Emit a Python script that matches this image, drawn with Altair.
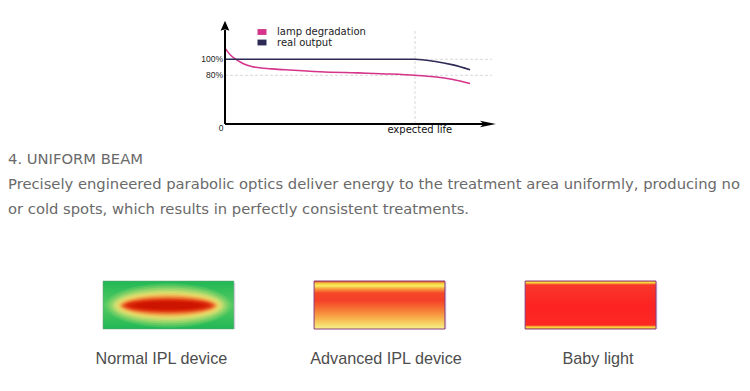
import altair as alt
import pandas as pd

# ---------------- data ----------------
series_names = ["lamp degradation", "real output"]
life_pct = [0, 3, 6, 10, 14, 18, 25, 34, 50, 70, 87, 100, 110, 120, 129]
lamp_degradation = [114, 105, 99.5, 94, 91, 89.5, 88, 86.6, 84.5, 83, 81.6, 80, 77.5, 73, 66.5]
real_output = [100, 100, 100, 100, 100, 100, 100, 100, 100, 100, 100, 100, 97.5, 93, 87]

y_ticks = [100, 80]
y_tick_labels = ["100%", "80%"]
origin_label = "0"
x_axis_label = "expected life"
expected_life = 100

text_lines = [
    "4. UNIFORM BEAM",
    " Precisely engineered parabolic optics deliver energy to the treatment area uniformly, producing no",
    "or cold spots, which results in perfectly consistent treatments.",
]

devices = ["Normal IPL device", "Advanced IPL device", "Baby light"]

# ---------------- styling ----------------
PINK = "#d6338a"
NAVY = "#2d2b55"
W, H = 734, 370

xs = alt.Scale(domain=[0, 100], range=[217, 407], nice=False, zero=False)
ys = alt.Scale(domain=[0, 80, 100], range=[116, 67.3, 51.3], nice=False, zero=False)
dev_scale = alt.Scale(type="band", domain=devices, range=[95, 648], paddingInner=0.38, paddingOuter=0)

lines_df = pd.DataFrame(
    [{"life": l, "pct": v, "series": series_names[0]} for l, v in zip(life_pct, lamp_degradation)]
    + [{"life": l, "pct": v, "series": series_names[1]} for l, v in zip(life_pct, real_output)]
)
legend_df = pd.DataFrame({"series": series_names})
tick_df = pd.DataFrame({"v": y_ticks, "label": y_tick_labels})
text_df = pd.DataFrame({"line": list(range(len(text_lines))), "text": text_lines})
dev_df = pd.DataFrame({"device": devices})
one = pd.DataFrame({"a": [0]})

color_scale = alt.Scale(domain=series_names, range=[PINK, NAVY])

layers = []

# grid lines (dashed)
layers.append(
    alt.Chart(tick_df).mark_rule(color="#d9d9d9", strokeDash=[3, 2], strokeWidth=1).encode(
        y=alt.Y("v:Q", scale=ys, axis=None),
        x=alt.XDatum(0, scale=xs, axis=None),
        x2=alt.X2Datum(140.5),
    )
)
# expected-life vertical dashed line
layers.append(
    alt.Chart(one).mark_rule(color="#d9d9d9", strokeDash=[3, 2], strokeWidth=1).encode(
        x=alt.XDatum(expected_life, scale=xs, axis=None),
        y=alt.YDatum(0, scale=ys, axis=None),
        y2=alt.Y2Datum(136.6),
    )
)
# curves
layers.append(
    alt.Chart(lines_df).mark_line(interpolate="monotone", strokeWidth=1.6).encode(
        x=alt.X("life:Q", scale=xs, axis=None),
        y=alt.Y("pct:Q", scale=ys, axis=None),
        color=alt.Color("series:N", scale=color_scale, legend=None),
    )
)
# axes lines
layers.append(
    alt.Chart(one).mark_rule(color="black", strokeWidth=2).encode(
        x=alt.XDatum(0, scale=xs, axis=None),
        y=alt.YDatum(0, scale=ys, axis=None),
        y2=alt.Y2Datum(137),
    )
)
layers.append(
    alt.Chart(one).mark_rule(color="black", strokeWidth=2).encode(
        x=alt.XDatum(0, scale=xs, axis=None),
        x2=alt.X2Datum(138),
        y=alt.YDatum(0, scale=ys, axis=None),
    )
)
# arrow heads
layers.append(
    alt.Chart(one).mark_point(shape="M0,-1L0.7,0.6L0,0.35L-0.7,0.6Z", size=156, filled=True,
                              color="black", opacity=1).encode(
        x=alt.XDatum(0, scale=xs, axis=None),
        y=alt.YDatum(140.4, scale=ys, axis=None),
    )
)
layers.append(
    alt.Chart(one).mark_point(shape="M1,0L-1,-0.4L-0.55,0L-1,0.4Z", size=256, filled=True,
                              color="black", opacity=1).encode(
        x=alt.XDatum(138.4, scale=xs, axis=None),
        y=alt.YDatum(0, scale=ys, axis=None),
    )
)
# tick labels
layers.append(
    alt.Chart(tick_df).mark_text(align="right", baseline="middle", dx=-2, fontSize=8.5,
                                 font="Liberation Sans", color="#222").encode(
        x=alt.XDatum(0, scale=xs, axis=None),
        y=alt.Y("v:Q", scale=ys, axis=None),
        text="label:N",
    )
)
layers.append(
    alt.Chart(one).mark_text(align="center", baseline="middle", dx=-4, dy=4, fontSize=8.5,
                             font="Liberation Sans", color="#222", text=origin_label).encode(
        x=alt.XDatum(0, scale=xs, axis=None),
        y=alt.YDatum(0, scale=ys, axis=None),
    )
)
layers.append(
    alt.Chart(one).mark_text(align="center", baseline="middle", dy=5.5, fontSize=10,
                             font="DejaVu Sans", color="#111", text=x_axis_label).encode(
        x=alt.XDatum(102.5, scale=xs, axis=None),
        y=alt.YDatum(0, scale=ys, axis=None),
    )
)
# legend
leg_y = alt.Scale(type="point", domain=series_names, range=[24, 34.5], padding=0)
layers.append(
    alt.Chart(legend_df).mark_point(shape="M-1,-0.65L1,-0.65L1,0.65L-1,0.65Z", size=81,
                                    filled=True, opacity=1).encode(
        x=alt.value(254),
        y=alt.Y("series:N", scale=leg_y, axis=None),
        color=alt.Color("series:N", scale=color_scale, legend=None),
    )
)
layers.append(
    alt.Chart(legend_df).mark_text(align="left", baseline="middle", fontSize=10,
                                   font="DejaVu Sans", color="#222").encode(
        x=alt.value(269),
        y=alt.Y("series:N", scale=leg_y, axis=None),
        text="series:N",
    )
)

# paragraph text
layers.append(
    alt.Chart(text_df).mark_text(align="left", baseline="middle", fontSize=14.75,
                                 font="DejaVu Sans", color="#6a6a6a").encode(
        x=alt.value(0),
        y=alt.Y("line:Q", scale=alt.Scale(domain=[0, 2], range=[152, 202]), axis=None),
        text="text:N",
    )
)

# ----- beam profile boxes -----
def dev_rect(name, fill, **kw):
    return alt.Chart(dev_df).transform_filter(alt.datum.device == name).mark_rect(fill=fill, **kw).encode(
        x=alt.X("device:N", scale=dev_scale, axis=None),
        y=alt.value(273),
        y2=alt.value(321),
    )

# soft shadows
for d in devices:
    layers.append(dev_rect(d, "#e4d9ee", xOffset=1.5, yOffset=1.5))

normal_fill = {
    "gradient": "linear", "x1": 0, "y1": 0, "x2": 0, "y2": 1,
    "stops": [
        {"offset": 0, "color": "#20b855"},
        {"offset": 0.5, "color": "#55c962"},
        {"offset": 1, "color": "#20b855"},
    ],
}
layers.append(dev_rect(devices[0], normal_fill, stroke="#6b9a7a", strokeWidth=0.5))

# elliptical hot-spot: nested soft rings (anchors, then densified for smoothness)
ring_anchors = [
    (126, 44, "#7fd46a", 0.35),
    (116, 36, "#b6db6e", 0.45),
    (108, 29, "#e2e070", 0.55),
    (101, 24, "#f0cc60", 0.55),
    (96, 20, "#f09a44", 0.6),
    (92, 16.5, "#ea6a2c", 0.65),
    (87, 13, "#e03c14", 0.7),
    (80, 10, "#d8240a", 0.8),
    (68, 7.5, "#d01800", 0.9),
    (52, 5, "#cc1400", 1.0),
]


def _mix(c1, c2, t):
    a = [int(c1[i:i + 2], 16) for i in (1, 3, 5)]
    b = [int(c2[i:i + 2], 16) for i in (1, 3, 5)]
    return "#" + "".join(f"{round(x + (y - x) * t):02x}" for x, y in zip(a, b))


rings = []
for (w1, h1, c1, o1), (w2, h2, c2, o2) in zip(ring_anchors[:-1], ring_anchors[1:]):
    for t in (0, 0.5):
        rings.append((w1 + (w2 - w1) * t, h1 + (h2 - h1) * t, _mix(c1, c2, t), o1 + (o2 - o1) * t))
rings.append(ring_anchors[-1])

for w, h, c, o in rings:
    r = h / w
    shape = f"M-1,0A1,{r:.4f} 0 1,1 1,0A1,{r:.4f} 0 1,1 -1,0Z"
    layers.append(
        alt.Chart(dev_df).transform_filter(alt.datum.device == devices[0]).mark_point(
            shape=shape, size=w * w, filled=True, color=c, opacity=o, strokeWidth=0
        ).encode(
            x=alt.X("device:N", scale=dev_scale, axis=None),
            y=alt.value(297.5),
        )
    )

adv_fill = {
    "gradient": "linear", "x1": 0, "y1": 0, "x2": 0, "y2": 1,
    "stops": [
        {"offset": 0, "color": "#e0402a"},
        {"offset": 0.05, "color": "#f6c83e"},
        {"offset": 0.1, "color": "#f8f060"},
        {"offset": 0.16, "color": "#f8a040"},
        {"offset": 0.25, "color": "#f54828"},
        {"offset": 0.4, "color": "#f44028"},
        {"offset": 0.55, "color": "#f56a30"},
        {"offset": 0.75, "color": "#f8a848"},
        {"offset": 0.9, "color": "#f7d868"},
        {"offset": 1, "color": "#f5f090"},
    ],
}
layers.append(dev_rect(devices[1], adv_fill, stroke="#8a3a7a", strokeWidth=1))

baby_fill = {
    "gradient": "linear", "x1": 0, "y1": 0, "x2": 0, "y2": 1,
    "stops": [
        {"offset": 0, "color": "#f2a020"},
        {"offset": 0.035, "color": "#f8e040"},
        {"offset": 0.08, "color": "#f8382a"},
        {"offset": 0.5, "color": "#fd2323"},
        {"offset": 0.92, "color": "#fc2822"},
        {"offset": 0.96, "color": "#f8e040"},
        {"offset": 1, "color": "#f0a020"},
    ],
}
layers.append(dev_rect(devices[2], baby_fill, stroke="#8a3a7a", strokeWidth=1))

# device labels
label_dx = [-7, 6.5, 7.5]
for d, dx in zip(devices, label_dx):
    layers.append(
        alt.Chart(dev_df).transform_filter(alt.datum.device == d).mark_text(
            align="center", baseline="alphabetic", dx=dx, fontSize=16.2,
            font="Liberation Sans", color="#4d4d4d"
        ).encode(
            x=alt.X("device:N", scale=dev_scale, axis=None),
            y=alt.value(356),
            text="device:N",
        )
    )

chart = (
    alt.layer(*layers)
    .resolve_scale(x="independent", y="independent", color="independent")
    .properties(width=W, height=H, padding=0, autosize=alt.AutoSizeParams(type="none"),
                background="white")
    .configure_view(stroke=None)
)

chart.save("out.html", embed_options={"renderer": "svg", "actions": False})
